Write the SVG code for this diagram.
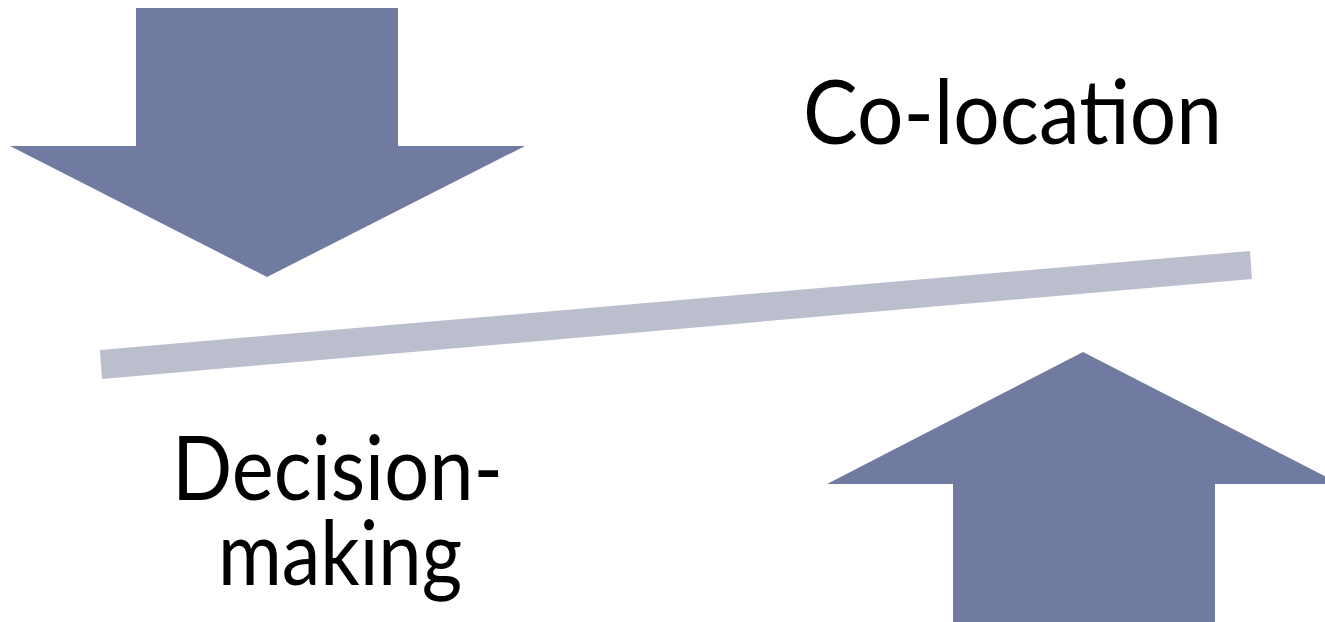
<svg xmlns="http://www.w3.org/2000/svg" width="1325" height="622" viewBox="0 0 1325 622">
<style>
.arrow{fill:#717aa1}
.bar{fill:#bbbecd}
.lbl{font-family:Lato,"Open Sans","Liberation Sans",sans-serif;font-size:90px;fill:#000}
</style>
<rect width="1325" height="622" fill="#fff"/>
<g id="arrow-down"><polygon class="arrow" points="136,8 398,8 398,146 525,146 267,277 10,146 136,146"/></g>
<g id="arrow-up"><polygon class="arrow" points="1083,352 1340,484 1215,484 1215,622 953,622 953,484 827,484"/></g>
<g id="connectors"><polygon class="bar" points="100,350 1250,251 1252,279 102,379"/></g>
<g id="label-colocation"><text class="lbl" x="803" y="144" textLength="419" lengthAdjust="spacingAndGlyphs">Co-location</text></g>
<g id="label-decision"><text class="lbl" x="172" y="500" textLength="331" lengthAdjust="spacingAndGlyphs">Decision-</text><text class="lbl" x="218" y="585" textLength="244" lengthAdjust="spacingAndGlyphs">making</text></g>
</svg>
